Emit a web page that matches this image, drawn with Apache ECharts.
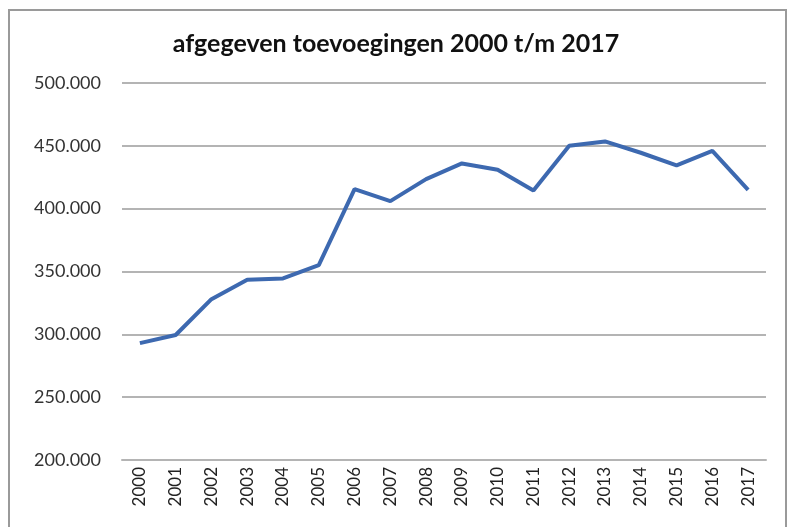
<!DOCTYPE html>
<html><head><meta charset="utf-8">
<script src="https://cdn.jsdelivr.net/npm/echarts@6/dist/echarts.min.js"></script>
<style>html,body{margin:0;padding:0;background:#fff}#c{width:792px;height:527px}</style>
</head><body><div id="c"></div>
<script>
const years = ['2000','2001','2002','2003','2004','2005','2006','2007','2008','2009','2010','2011','2012','2013','2014','2015','2016','2017'];
const toevoegingen = [293000,299500,328000,343500,344500,355000,415500,406000,423500,436000,431000,414500,450000,453500,444500,434500,446000,415000];
const yTicks = {min:200000, max:500000, interval:50000};
const titleText = 'afgegeven toevoegingen 2000 t/m 2017';

const chart = echarts.init(document.getElementById('c'));
chart.setOption({
  animation:false,
  backgroundColor:'#fff',
  title:{text:titleText,left:'center',top:26,textStyle:{fontFamily:'Lato',fontWeight:'bold',fontSize:25,color:'#111'}},
  graphic:[{type:'rect',shape:{x:9,y:10,width:777,height:530},style:{fill:'none',stroke:'#9a9a9a',lineWidth:2},silent:true}],
  grid:{left:122,right:26,top:83,bottom:67},
  xAxis:{type:'category',data:years,boundaryGap:true,
    axisLine:{lineStyle:{color:'#b4b4b4',width:2}},axisTick:{show:false},
    axisLabel:{rotate:90,fontFamily:'Lato',fontSize:17,color:'#222',margin:7}},
  yAxis:{type:'value',min:yTicks.min,max:yTicks.max,interval:yTicks.interval,
    axisLine:{show:false},axisTick:{show:false},
    splitLine:{lineStyle:{color:'#b4b4b4',width:2}},
    axisLabel:{fontFamily:'Lato',fontSize:18,color:'#333',margin:21,
      formatter:v=>v.toLocaleString('de-DE')}},
  series:[{type:'line',data:toevoegingen,symbol:'none',lineStyle:{color:'#3d69b0',width:4}}]
});
</script></body></html>
